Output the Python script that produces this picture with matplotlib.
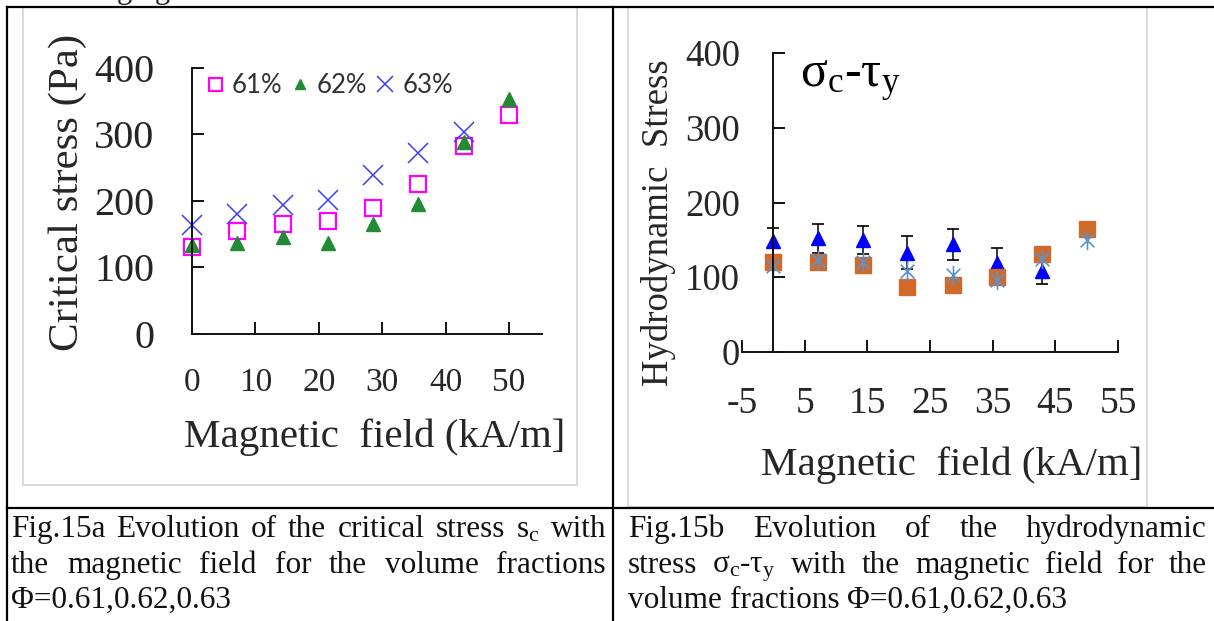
import matplotlib
matplotlib.use('Agg')
import matplotlib.pyplot as plt
from matplotlib.path import Path
from matplotlib.lines import Line2D
from matplotlib.patches import Rectangle

W, H = 1214, 621
SERIF = 'Liberation Serif'

plt.rcParams['font.family'] = SERIF
plt.rcParams['mathtext.fontset'] = 'custom'
plt.rcParams['mathtext.rm'] = SERIF
plt.rcParams['axes.unicode_minus'] = False

# values
field = [0, 7.1, 14.3, 21.4, 28.6, 35.7, 42.9, 50.0]

crit_61 = [131, 155, 165, 170, 189, 225, 282, 330]
crit_62 = [134, 137, 146, 137, 165, 196, 289, 354]
crit_63 = [164, 180, 194, 201, 239, 272, 304]
legend_labels = ['61%', '62%', '63%']

hydro_tri = [148, 152, 150, 133, 144, 119, 109]
hydro_tri_err = [18, 19, 19, 22, 21, 20, 18]
hydro_sq = [121, 120, 117, 87, 90, 100, 131, 164]
hydro_star = [115, 123, 120, 108, 103, 96, 125, 150]

left_xticks = [0, 10, 20, 30, 40, 50]
right_xticks = [-5, 5, 15, 25, 35, 45, 55]
yticks = [0, 100, 200, 300, 400]

caption_a = ['Fig.15a Evolution of the critical stress $\\mathrm{s_c}$ with',
             'the magnetic field for the volume fractions',
             '\u03a6=0.61,0.62,0.63']
caption_b = ['Fig.15b Evolution of the hydrodynamic',
             'stress $\\mathrm{\u03c3_c}$-$\\mathrm{\u03c4_y}$ with the magnetic field for the',
             'volume fractions \u03a6=0.61,0.62,0.63']


def fx(px):
    return px / W


def fy(py):
    return 1 - py / H


def box(x0, x1, ytop, ybot):
    return [fx(x0), fy(ybot), (x1 - x0) / W, (ybot - ytop) / H]


def style_axes(ax, xsize, ysize, xpad, ypad):
    for s in ['top', 'right']:
        ax.spines[s].set_visible(False)
    for s in ['left', 'bottom']:
        ax.spines[s].set_linewidth(1.4)
        ax.spines[s].set_color('#111111')
    ax.tick_params(direction='in', length=8.5, width=1.4, color='#111111',
                   labelcolor='#262626')
    ax.tick_params(axis='x', labelsize=xsize, pad=xpad)
    ax.tick_params(axis='y', labelsize=ysize, pad=ypad)
    ax.patch.set_alpha(0)


fig = plt.figure(figsize=(W / 100, H / 100), dpi=100)

# ---- left chart: critical stress ----
ax1 = fig.add_axes(box(192, 542, 68, 334))
ax1.set_xlim(0, 55.2)
ax1.set_ylim(0, 400)
ax1.set_xticks(left_xticks)
ax1.set_yticks(yticks)
style_axes(ax1, 24, 29, 24, 27)

h61, = ax1.plot(field, crit_61, 's', ms=12, mfc='none', mec='#ff00ff', mew=1.6,
                clip_on=False)
h62, = ax1.plot(field, crit_62, '^', ms=9.5, color='#228b34', clip_on=False)
h63, = ax1.plot(field[:len(crit_63)], crit_63, 'x', ms=14, mew=1.1,
                color='#3d3df5', clip_on=False)

leg = ax1.legend([h61, h62, h63], legend_labels, loc='upper left',
                 bbox_to_anchor=(fx(206), fy(73)), bbox_transform=fig.transFigure,
                 ncol=3, frameon=False, handlelength=0.7, handletextpad=0.3,
                 columnspacing=0.35, borderpad=0, borderaxespad=0, markerscale=0.78,
                 prop={'family': 'Lato', 'size': 18.5})
for t in leg.get_texts():
    t.set_color('#333333')

ax1.set_ylabel('Critical stress (Pa)', fontsize=31, va='center', color='#262626')
ax1.yaxis.set_label_coords(fx(68), fy(192), transform=fig.transFigure)
ax1.set_xlabel('Magnetic  field (kA/m]', fontsize=29.5, va='center', color='#262626')
ax1.xaxis.set_label_coords(fx(375), fy(437), transform=fig.transFigure)

# ---- right chart: hydrodynamic stress ----
ax2 = fig.add_axes(box(742, 1118, 53, 352))
ax2.set_xlim(-5, 55)
ax2.set_ylim(0, 400)
ax2.spines['left'].set_position(('data', 0))
ax2.set_xticks(right_xticks)
ax2.set_yticks(yticks)
style_axes(ax2, 27, 26.5, 25, 24)

star = Path([(0, -1), (0, 1), (-0.7, -0.7), (0.7, 0.7), (-0.7, 0.7), (0.7, -0.7)],
            [Path.MOVETO, Path.LINETO] * 3)

n = len(hydro_tri)
ax2.errorbar(field[:n], hydro_tri, yerr=hydro_tri_err, fmt='none', ecolor='black',
             elinewidth=1.1, capsize=4.5, capthick=1.2, clip_on=False)
ax2.plot(field[:n], hydro_tri, '^', ms=9.5, color='#0000ff', clip_on=False)
ax2.plot(field, hydro_sq, 's', ms=11.5, color='#d06a2a', clip_on=False)
ax2.plot(field, hydro_star, linestyle='none', marker=star, ms=14, mfc='none',
         mec='#5a94d0', mew=1.2, clip_on=False)

fig.text(fx(800), fy(87), '$\\mathrm{\u03c3_c}$-$\\mathrm{\u03c4_y}$', fontsize=36,
         va='baseline', ha='left', color='black')

ax2.set_ylabel('Hydrodynamic  Stress', fontsize=26.5, va='center', color='#262626')
ax2.yaxis.set_label_coords(fx(659), fy(223), transform=fig.transFigure)
ax2.set_xlabel('Magnetic  field (kA/m]', fontsize=29.5, va='center', color='#262626')
ax2.xaxis.set_label_coords(fx(952), fy(465), transform=fig.transFigure)

# ---- table frame and picture borders ----
for x0, y0, x1, y1 in [(23, 7, 577, 485), (628, 7, 1147, 507)]:
    fig.add_artist(Rectangle((fx(x0), fy(y1)), (x1 - x0) / W, (y1 - y0) / H,
                             transform=fig.transFigure, fill=False,
                             ec='#d4d4d4', lw=1.2))
for xs, ys in [((7, W), (7, 7)), ((7, W), (508, 508)),
               ((7, 7), (7, H)), ((613, 613), (7, H))]:
    fig.add_artist(Line2D([fx(v) for v in xs], [fy(v) for v in ys],
                          transform=fig.transFigure, color='black', lw=1.6))

# cut-off line of text above the table (only descenders show)
fig.text(fx(117), fy(-2.2), 'ging', fontsize=22, va='baseline', color='#222222')

# ---- captions (justified like the document) ----
renderer = fig.canvas.get_renderer()


def caption(lines, x0, x1, baselines, size=22.5):
    for i, (line, yb) in enumerate(zip(lines, baselines)):
        words = line.split(' ')
        texts = [fig.text(fx(x0), fy(yb), w, fontsize=size, va='baseline',
                          color='#111111') for w in words]
        widths = [t.get_window_extent(renderer).width for t in texts]
        if i == len(lines) - 1:
            gap = size * 0.25 * 100 / 72
        else:
            gap = (x1 - x0 - sum(widths)) / (len(words) - 1)
        x = x0
        for t, w in zip(texts, widths):
            t.set_x(fx(x))
            x += w + gap


caption(caption_a, 11, 606, [537, 573, 608])
caption(caption_b, 628, 1207, [537, 573, 608])

fig.savefig('out.png', dpi=100)
